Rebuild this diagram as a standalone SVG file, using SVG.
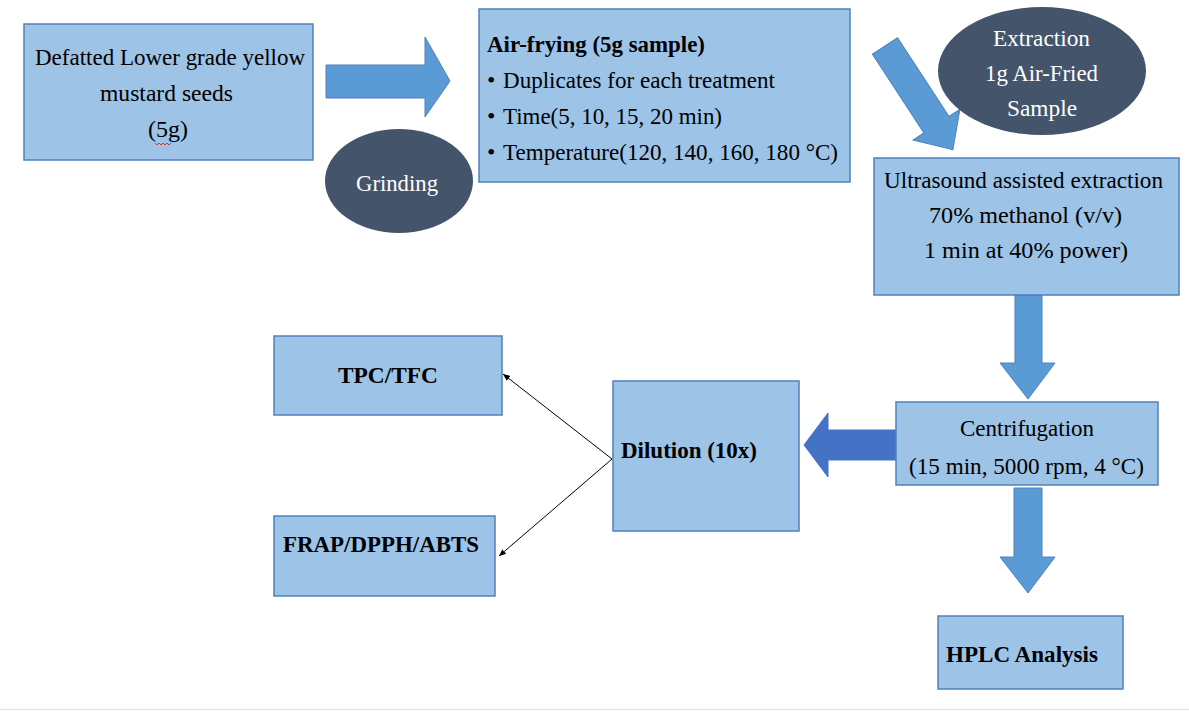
<svg xmlns="http://www.w3.org/2000/svg" width="1189" height="711" viewBox="0 0 1189 711">
<style>
.box{fill:#9DC3E6;stroke:#4F81BD;stroke-width:1.5}
.ell{fill:#44546A}
.arr{fill:#5B9BD5;stroke:#4F81BD;stroke-width:1}
.arr2{fill:#4472C4;stroke:#4472C4;stroke-width:1}
.t{font-family:Liberation Serif, Times New Roman, DejaVu Serif, serif;font-size:24px;fill:#000}
.b{font-weight:bold}
.w{fill:#fff}
.ln{stroke:#000;stroke-width:1;fill:none}
</style>
<defs>
<marker id="ah" markerWidth="8" markerHeight="8" refX="7" refY="4" orient="auto" markerUnits="userSpaceOnUse">
<path d="M0,1 L7,4 L0,7 Z" fill="#000"/>
</marker>
</defs>
<rect width="1189" height="711" fill="#fff"/>
<line x1="0" y1="709.5" x2="1189" y2="709.5" stroke="#e6e6e6" stroke-width="1.5"/>

<g id="connectors">
<polygon class="arr" points="326,65 425,65 425,37 450,81 425,117 425,98 326,98"/>
<polygon class="arr" transform="translate(885,46) rotate(56.8)" points="0,-15 94,-15 94,-28 124,0 94,28 94,15 0,15"/>
<polygon class="arr" points="1015,295 1042,295 1042,363 1055,363 1028,399 1000,363 1015,363"/>
<polygon class="arr2" points="897,430 828,430 828,413 804,445 828,477 828,460 897,460"/>
<polygon class="arr" points="1014,488 1042,488 1042,557 1055,557 1028,593 1000,557 1014,557"/>
<line class="ln" x1="612" y1="459" x2="503" y2="374" marker-end="url(#ah)"/>
<line class="ln" x1="612" y1="459" x2="499" y2="556" marker-end="url(#ah)"/>
</g>

<g id="seeds">
<rect class="box" x="24" y="24" width="289" height="136"/>
<text class="t" font-family="Liberation Serif" x="35" y="65" textLength="270" lengthAdjust="spacingAndGlyphs">Defatted Lower grade yellow</text>
<text class="t" font-family="Liberation Serif" x="100" y="101" textLength="133" lengthAdjust="spacingAndGlyphs">mustard seeds</text>
<text class="t" font-family="Liberation Serif" x="148" y="137" textLength="40" lengthAdjust="spacingAndGlyphs">(5g)</text>
<path d="M155,143 l2,2 l2,-2 l2,2 l2,-2 l2,2 l2,-2 l2,2 l2,-2" stroke="#e03030" stroke-width="1" fill="none"/>
</g>

<g id="grinding">
<ellipse class="ell" cx="399" cy="181" rx="74" ry="52"/>
<text class="t w" font-family="Liberation Serif" x="356" y="191" textLength="82" lengthAdjust="spacingAndGlyphs">Grinding</text>
</g>

<g id="airfrying">
<rect class="box" x="479" y="9" width="371" height="173"/>
<text class="t b" font-family="Liberation Serif" x="487" y="52" textLength="218" lengthAdjust="spacingAndGlyphs">Air-frying (5g sample)</text>
<text class="t" font-family="Liberation Serif" x="487" y="88">•</text><text class="t" font-family="Liberation Serif" x="503" y="88" textLength="272" lengthAdjust="spacingAndGlyphs">Duplicates for each treatment</text>
<text class="t" font-family="Liberation Serif" x="487" y="124">•</text><text class="t" font-family="Liberation Serif" x="503" y="124" textLength="219" lengthAdjust="spacingAndGlyphs">Time(5, 10, 15, 20 min)</text>
<text class="t" font-family="Liberation Serif" x="487" y="160">•</text><text class="t" font-family="Liberation Serif" x="503" y="160" textLength="335" lengthAdjust="spacingAndGlyphs">Temperature(120, 140, 160, 180 °C)</text>
</g>

<g id="extraction">
<ellipse class="ell" cx="1042" cy="71" rx="104" ry="64"/>
<text class="t w" font-family="Liberation Serif" x="993" y="46" textLength="97" lengthAdjust="spacingAndGlyphs">Extraction</text>
<text class="t w" font-family="Liberation Serif" x="985" y="81" textLength="113" lengthAdjust="spacingAndGlyphs">1g Air-Fried</text>
<text class="t w" font-family="Liberation Serif" x="1007" y="116" textLength="70" lengthAdjust="spacingAndGlyphs">Sample</text>
</g>

<g id="ultrasound">
<rect class="box" x="874" y="158" width="305" height="137"/>
<text class="t" font-family="Liberation Serif" x="884" y="188" textLength="279" lengthAdjust="spacingAndGlyphs">Ultrasound assisted extraction</text>
<text class="t" font-family="Liberation Serif" x="929" y="223" textLength="193" lengthAdjust="spacingAndGlyphs">70% methanol (v/v)</text>
<text class="t" font-family="Liberation Serif" x="924" y="258" textLength="204" lengthAdjust="spacingAndGlyphs">1 min at 40% power)</text>
</g>

<g id="centrifugation">
<rect class="box" x="896" y="402" width="262" height="83"/>
<text class="t" font-family="Liberation Serif" x="960" y="436" textLength="134" lengthAdjust="spacingAndGlyphs">Centrifugation</text>
<text class="t" font-family="Liberation Serif" x="909" y="474" textLength="235" lengthAdjust="spacingAndGlyphs">(15 min, 5000 rpm, 4 °C)</text>
</g>

<g id="dilution">
<rect class="box" x="613" y="381" width="186" height="150"/>
<text class="t b" font-family="Liberation Serif" x="621" y="458" textLength="136" lengthAdjust="spacingAndGlyphs">Dilution (10x)</text>
</g>

<g id="tpc">
<rect class="box" x="274" y="336" width="228" height="79"/>
<text class="t b" font-family="Liberation Serif" x="338" y="383" textLength="100" lengthAdjust="spacingAndGlyphs">TPC/TFC</text>
</g>

<g id="frap">
<rect class="box" x="274" y="516" width="221" height="80"/>
<text class="t b" font-family="Liberation Serif" x="283" y="552" textLength="196" lengthAdjust="spacingAndGlyphs">FRAP/DPPH/ABTS</text>
</g>

<g id="hplc">
<rect class="box" x="938" y="616" width="185" height="73"/>
<text class="t b" font-family="Liberation Serif" x="946" y="662" textLength="152" lengthAdjust="spacingAndGlyphs">HPLC Analysis</text>
</g>
</svg>
